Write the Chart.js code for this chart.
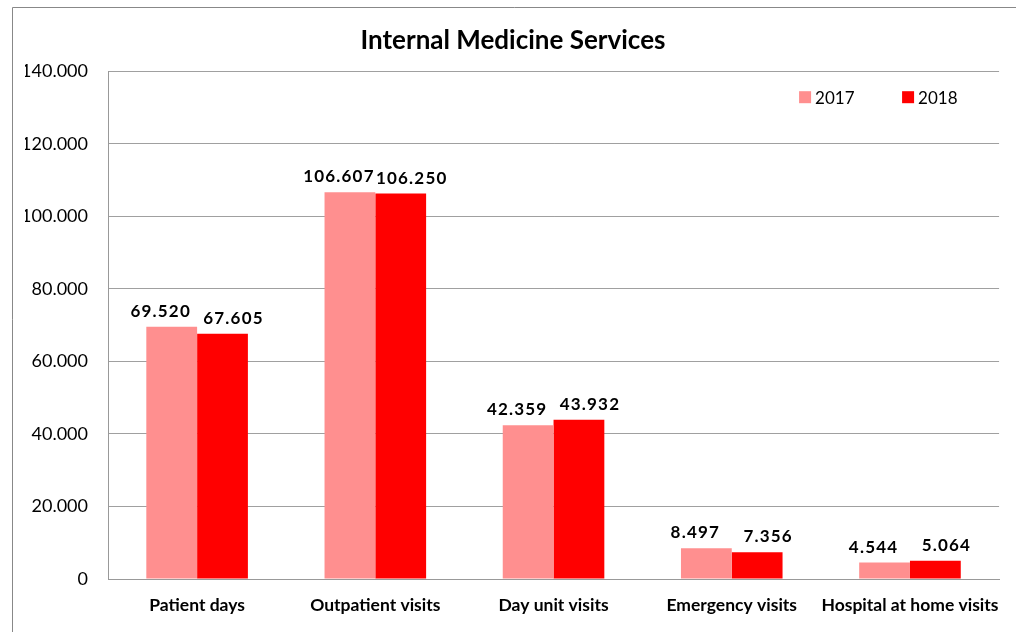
<!DOCTYPE html>
<html>
<head>
<meta charset="utf-8">
<script src="https://cdn.jsdelivr.net/npm/chart.js@4.4.1/dist/chart.umd.min.js"></script>
<style>
  html, body { margin: 0; padding: 0; background: #fff; }
  #wrap { width: 1016px; height: 632px; position: relative; }
</style>
</head>
<body>
<div id="wrap"><canvas id="chart"></canvas></div>
<script>
const categories = ['Patient days', 'Outpatient visits', 'Day unit visits', 'Emergency visits', 'Hospital at home visits'];
const values2017 = [69520, 106607, 42359, 8497, 4544];
const values2018 = [67605, 106250, 43932, 7356, 5064];
const seriesLabels = ['2017', '2018'];

const FONT = 'Lato, "Open Sans", sans-serif';

// 106607 -> "106.607"
function fmt(v) {
    return String(Math.round(v)).replace(/\B(?=(\d{3})+(?!\d))/g, '.');
}

// value labels above bars, legend in the plot corner, outer frame
const extras = {
    id: 'extras',
    beforeDraw(chart) {
        const ctx = chart.ctx;
        ctx.save();
        ctx.strokeStyle = '#888';
        ctx.lineWidth = 1;
        ctx.beginPath();
        ctx.moveTo(12.5, chart.height);
        ctx.lineTo(12.5, 7.5);
        ctx.lineTo(chart.width, 7.5);
        ctx.stroke();
        ctx.restore();
    },
    afterDatasetsDraw(chart) {
        const ctx = chart.ctx;
        ctx.save();
        ctx.font = 'bold 17px ' + FONT;
        ctx.letterSpacing = '1.2px';
        ctx.fillStyle = '#000';
        ctx.textAlign = 'center';
        ctx.textBaseline = 'bottom';
        chart.data.datasets.forEach((ds, i) => {
            // labels pushed apart a little so neighbours don't collide
            const nudge = i === 0 ? -11 : 11;
            chart.getDatasetMeta(i).data.forEach((bar, j) => {
                ctx.fillText(fmt(ds.data[j]), bar.x + nudge, bar.y - 7);
            });
        });
        ctx.restore();

        // legend
        ctx.save();
        ctx.font = '17px ' + FONT;
        ctx.textAlign = 'left';
        ctx.textBaseline = 'middle';
        const area = chart.chartArea;
        let x = area.right - 200;
        const y = area.top + 26;
        chart.data.datasets.forEach((ds) => {
            ctx.fillStyle = ds.backgroundColor;
            ctx.fillRect(x, y - 6, 12, 12);
            ctx.fillStyle = '#000';
            ctx.fillText(ds.label, x + 16, y + 1);
            x += 103;
        });
        ctx.restore();
    }
};

new Chart(document.getElementById('chart'), {
    type: 'bar',
    data: {
        labels: categories,
        datasets: [
            { label: seriesLabels[0], data: values2017, backgroundColor: '#FF8F8F' },
            { label: seriesLabels[1], data: values2018, backgroundColor: '#FF0000' }
        ]
    },
    options: {
        responsive: true,
        maintainAspectRatio: false,
        animation: false,
        layout: { padding: { left: 25, right: 15, top: 0, bottom: 0 } },
        datasets: {
            bar: { categoryPercentage: 0.57, barPercentage: 1.0 }
        },
        scales: {
            x: {
                grid: { display: false, drawTicks: false },
                border: { color: '#999', width: 1 },
                ticks: {
                    color: '#000',
                    padding: 16,
                    maxRotation: 0,
                    autoSkip: false,
                    font: { family: FONT, size: 17.5, weight: 'bold' }
                },
                afterFit(scale) { scale.height = 53; }
            },
            y: {
                min: 0,
                max: 140000,
                grid: { color: '#a0a0a0', drawTicks: false, tickLength: 0 },
                border: { color: '#999', width: 1 },
                ticks: {
                    stepSize: 20000,
                    color: '#000',
                    padding: 20,
                    font: { family: FONT, size: 18 },
                    callback: (v) => fmt(v)
                },
                afterFit(scale) { scale.width = 83; }
            }
        },
        plugins: {
            title: {
                display: true,
                text: 'Internal Medicine Services',
                color: '#000',
                font: { family: FONT, size: 26, weight: 'bold' },
                padding: { top: 25, bottom: 15 }
            },
            legend: { display: false },
            tooltip: { enabled: false }
        }
    },
    plugins: [extras]
});
</script>
</body>
</html>
